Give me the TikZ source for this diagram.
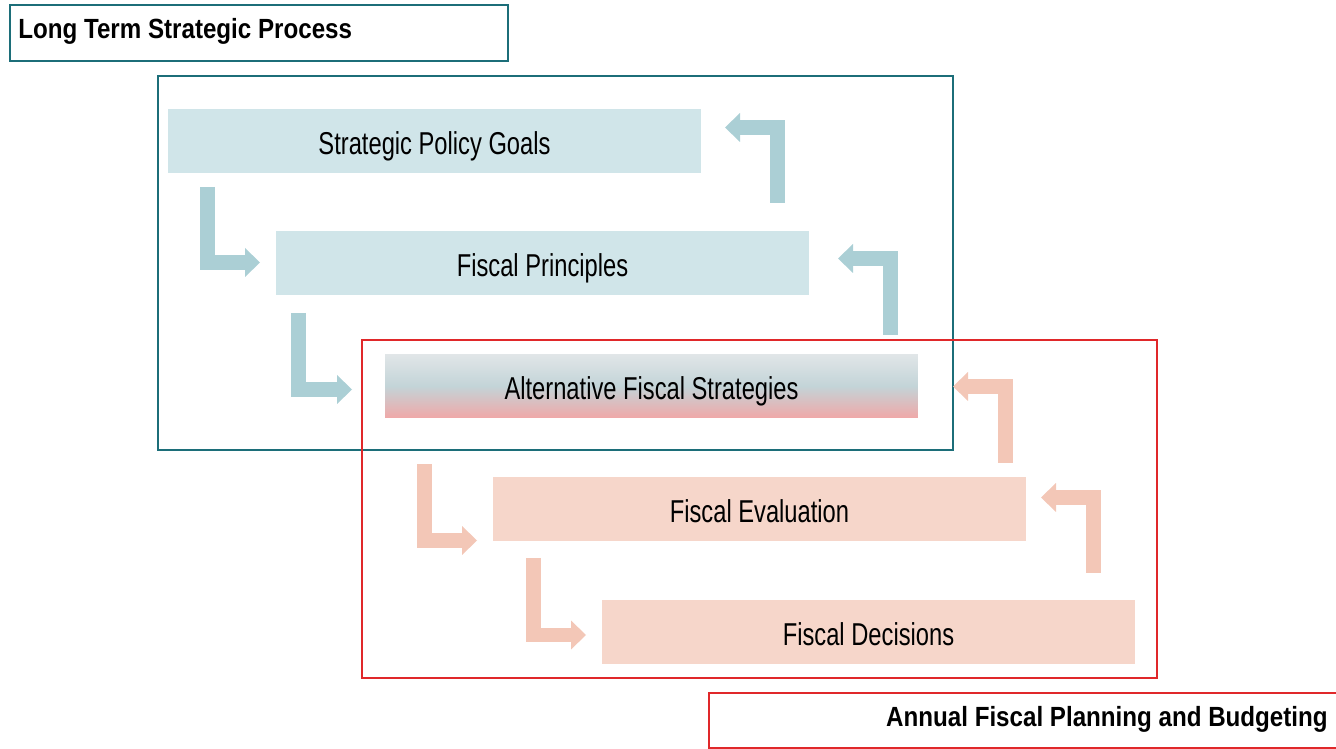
\documentclass[tikz,border=0pt]{standalone}
\usepackage{fontspec}
\setmainfont{Liberation Sans}
\newfontfamily\bodyfont{Liberation Sans}[FakeStretch=0.75]
\newfontfamily\headfont{Liberation Sans}[FakeStretch=0.87]
\usepackage{xcolor}
\usetikzlibrary{arrows.meta}

\definecolor{frameteal}{HTML}{1C6E79}
\definecolor{framered}{HTML}{E0282A}
\definecolor{boxteal}{HTML}{D0E5E9}
\definecolor{arrowteal}{HTML}{ABCFD5}
\definecolor{boxsalmon}{HTML}{F6D6CA}
\definecolor{arrowsalmon}{HTML}{F3C7B7}
\definecolor{shadetop}{HTML}{E1E6E8}
\definecolor{shademid}{HTML}{C3D4D8}
\definecolor{shadebot}{HTML}{F0A8A8}

\tikzset{
  stagebox/.style={minimum width=10.66cm, minimum height=1.28cm, inner sep=0pt,
    text height=19.8pt, text depth=4pt,
    text=black, font=\bodyfont\fontsize{18}{21}\selectfont},
  longbox/.style={stagebox, fill=boxteal},
  annualbox/.style={stagebox, fill=boxsalmon},
  headtext/.style={inner sep=0pt, text=black, font=\headfont\bfseries\fontsize{15.8}{19}\selectfont},
  bentarrow/.style={line width=0.3cm, -{Triangle[width=0.58cm,length=0.3cm,line width=0pt]}},
}

\begin{document}
\begin{tikzpicture}[x=0.02cm, y=-0.02cm]
        \useasboundingbox (0,0) rectangle (1336,749);

        % Frames
        \draw[frameteal, line width=0.04cm] (158,76) rectangle (953,450);
        \draw[framered, line width=0.04cm] (362,340) rectangle (1157,678);

        % Titles
        \node[draw=frameteal, line width=0.04cm, minimum width=9.96cm, minimum height=1.12cm] (ltframe) at (259,33) {};
        \node[headtext, anchor=base west] (lttitle) at (18,39) {Long Term Strategic Process};
        \node[draw=framered, line width=0.04cm, minimum width=12.56cm, minimum height=1.1cm] (afframe) at (1023,720.5) {};
        \node[headtext, anchor=base east] (aftitle) at (1328,726) {Annual Fiscal Planning and Budgeting};

        % Stages
        \node[longbox] (goals) at (434.5,141) {Strategic Policy Goals};
        \node[longbox] (princ) at (542.5,263) {Fiscal Principles};
        \node[stagebox, top color=shadetop, bottom color=shadebot, middle color=shademid] (alt) at (651.5,386) {Alternative Fiscal Strategies};
        \node[annualbox] (eval) at (759.5,509) {Fiscal Evaluation};
        \node[annualbox] (dec) at (868.5,632) {Fiscal Decisions};

        % Arrow ends
        \coordinate (l1s) at (207.5,187);  \coordinate (l1e) at (260,262.5);
        \coordinate (l2s) at (298.5,313);  \coordinate (l2e) at (352,389.5);
        \coordinate (l3s) at (424.5,464);  \coordinate (l3e) at (477,540.5);
        \coordinate (l4s) at (533,558);    \coordinate (l4e) at (586,635);
        \coordinate (r1s) at (777.5,203);  \coordinate (r1e) at (725,127.5);
        \coordinate (r2s) at (890.5,335);  \coordinate (r2e) at (838,258.5);
        \coordinate (r3s) at (1005.5,463); \coordinate (r3e) at (953,386.5);
        \coordinate (r4s) at (1093.5,573); \coordinate (r4e) at (1041,497.5);

        % Downward arrows
        \draw[bentarrow, arrowteal] (l1s) |- (l1e);
        \draw[bentarrow, arrowteal] (l2s) |- (l2e);
        \draw[bentarrow, arrowsalmon] (l3s) |- (l3e);
        \draw[bentarrow, arrowsalmon] (l4s) |- (l4e);

        % Upward arrows
        \draw[bentarrow, arrowteal] (r1s) |- (r1e);
        \draw[bentarrow, arrowteal] (r2s) |- (r2e);
        \draw[bentarrow, arrowsalmon] (r3s) |- (r3e);
        \draw[bentarrow, arrowsalmon] (r4s) |- (r4e);

    \end{tikzpicture}
\end{document}
